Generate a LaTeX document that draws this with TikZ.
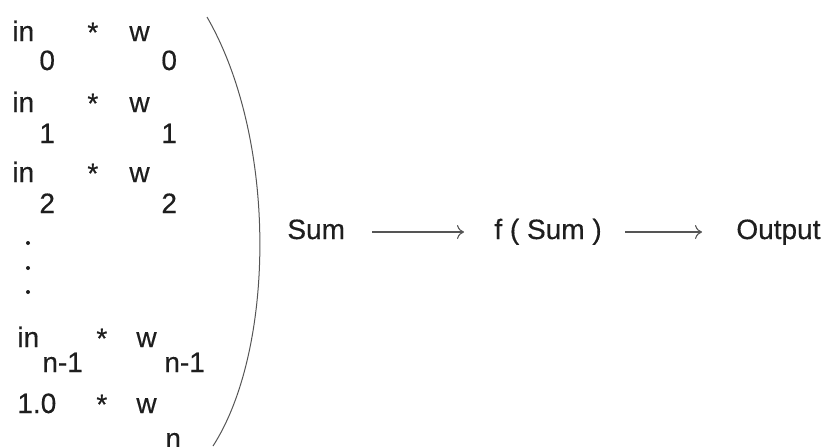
\documentclass[tikz,border=0pt]{standalone}
\usepackage{fontspec}
\setmainfont{Liberation Sans}
\newfontfamily\scanfont{Liberation Sans}[FakeBold=0.4]
\usetikzlibrary{arrows.meta,positioning}
\definecolor{inkText}{RGB}{30,30,30}
\definecolor{inkLine}{RGB}{85,85,85}

\begin{document}
\begin{tikzpicture}[x=0.5pt,y=-0.5pt,
  tx/.style={inner sep=0pt,anchor=base west,text=inkText,
             font=\scanfont\fontsize{14}{16}\selectfont,text height=0.8em,text depth=0.1em},
  dotmark/.style={circle,fill=inkText,inner sep=0pt,minimum size=2pt},
  arr/.style={-{To[length=3.5pt,width=7pt]},draw=inkLine,line width=0.55pt}]
  \useasboundingbox (0,0) rectangle (825,446);
  \foreach \i/\y/\ys in {0/41/70,1/112/143,2/182/213}{
    \node[tx] (in\i) at (12,\y) {in};
    \node[tx] (in\i s) at (39,\ys) {\i};
    \node[tx] (st\i) at (87,\y+1) {*};
    \node[tx] (w\i) at (129,\y) {w};
    \node[tx] (w\i s) at (161,\ys) {\i};
  }
  \foreach \y [count=\k] in {243,268,292}
    \node[dotmark] (dot\k) at (28,\y) {};
  \node[tx] (inm) at (17,347) {in};
  \node[tx] (inms) at (42,372) {n-1};
  \node[tx] (stm) at (96,348) {*};
  \node[tx] (wm) at (136,347) {w};
  \node[tx] (wms) at (164,372) {n-1};
  \node[tx] (one) at (17,413) {1.0};
  \node[tx] (stn) at (96,414) {*};
  \node[tx] (wn) at (136,413) {w};
  \node[tx] (wns) at (165,448) {n};
  \draw[inkLine,line width=0.5pt] (207,17) .. controls (278,140) and (275,350) .. (213,446);
  \node[tx] (sum) at (287,239) {Sum};
  \node[tx] (fsum) at (494,239) {f ( Sum )};
  \node[tx] (out) at (736,239) {Output};
  \draw[arr,shorten <=13.5pt,shorten >=15pt] (sum) -- (fsum);
  \draw[arr,shorten <=11.5pt,shorten >=17pt] (fsum) -- (out);
\end{tikzpicture}
\end{document}
